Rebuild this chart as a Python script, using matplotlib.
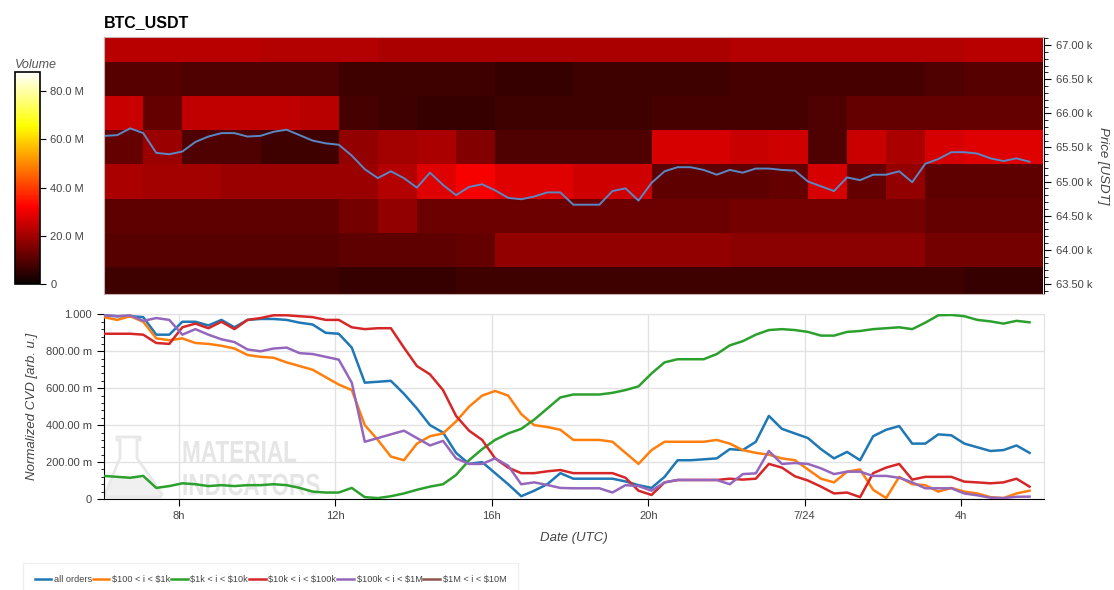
import numpy as np
import matplotlib
matplotlib.use("Agg")
import matplotlib.pyplot as plt
from matplotlib.ticker import MultipleLocator, FuncFormatter, FixedLocator
from matplotlib.textpath import TextPath
from matplotlib.patches import PathPatch, Polygon
from matplotlib.font_manager import FontProperties
from matplotlib.transforms import Affine2D

plt.rcParams['font.family'] = ['Liberation Sans', 'DejaVu Sans']

# time axis: hours since 2024-07-23 00:00 UTC, one sample every 20 min from 06:05
t = 6 + 5 / 60 + np.arange(72) / 3

price = [65670, 65680, 65780, 65710, 65420, 65400, 65440, 65580, 65660, 65710,
         65710, 65660, 65670, 65730, 65760, 65680, 65600, 65560, 65540, 65380,
         65180, 65050, 65150, 65050, 64910, 65130, 64950, 64800, 64920, 64960,
         64870, 64760, 64740, 64780, 64840, 64840, 64660, 64660, 64660, 64860,
         64900, 64720, 64980, 65150, 65210, 65210, 65170, 65100, 65170, 65130,
         65190, 65190, 65170, 65160, 65000, 64930, 64860, 65060, 65020, 65100,
         65100, 65150, 64990, 65260, 65330, 65430, 65430, 65410, 65340, 65300,
         65340, 65290]

cvd_all = [0.995, 0.99, 0.99, 0.985, 0.89, 0.89, 0.96, 0.96, 0.94, 0.97,
           0.93, 0.97, 0.975, 0.975, 0.97, 0.955, 0.945, 0.90, 0.895, 0.82,
           0.63, 0.635, 0.64, 0.57, 0.49, 0.40, 0.36, 0.25, 0.19, 0.20,
           0.14, 0.08, 0.015, 0.045, 0.08, 0.14, 0.11, 0.11, 0.11, 0.11,
           0.095, 0.075, 0.06, 0.12, 0.21, 0.21, 0.215, 0.22, 0.27, 0.265,
           0.31, 0.45, 0.38, 0.355, 0.33, 0.27, 0.22, 0.255, 0.21, 0.34,
           0.375, 0.395, 0.30, 0.30, 0.35, 0.345, 0.30, 0.28, 0.26, 0.265,
           0.29, 0.25]
cvd_100_1k = [0.985, 0.97, 0.99, 0.96, 0.87, 0.86, 0.87, 0.845, 0.84, 0.83,
              0.815, 0.78, 0.77, 0.765, 0.74, 0.72, 0.70, 0.66, 0.62, 0.59,
              0.40, 0.32, 0.23, 0.21, 0.30, 0.34, 0.355, 0.42, 0.50, 0.56,
              0.585, 0.56, 0.46, 0.40, 0.39, 0.375, 0.32, 0.32, 0.32, 0.31,
              0.25, 0.19, 0.265, 0.31, 0.31, 0.31, 0.31, 0.32, 0.30, 0.265,
              0.25, 0.24, 0.22, 0.21, 0.16, 0.11, 0.09, 0.148, 0.16, 0.05,
              0.005, 0.12, 0.08, 0.075, 0.04, 0.06, 0.04, 0.03, 0.01, 0.005,
              0.03, 0.045]
cvd_1k_10k = [0.125, 0.12, 0.115, 0.125, 0.06, 0.07, 0.085, 0.08, 0.07, 0.075,
              0.07, 0.075, 0.075, 0.08, 0.075, 0.06, 0.04, 0.035, 0.035, 0.06,
              0.01, 0.005, 0.015, 0.03, 0.05, 0.067, 0.08, 0.13, 0.21, 0.27,
              0.32, 0.355, 0.38, 0.43, 0.49, 0.55, 0.566, 0.566, 0.566, 0.575,
              0.59, 0.61, 0.68, 0.74, 0.757, 0.757, 0.757, 0.785, 0.832, 0.855,
              0.89, 0.915, 0.92, 0.915, 0.905, 0.885, 0.885, 0.905, 0.91, 0.92,
              0.925, 0.93, 0.92, 0.955, 0.995, 0.997, 0.99, 0.97, 0.962, 0.95,
              0.965, 0.957]
cvd_10k_100k = [0.895, 0.895, 0.895, 0.89, 0.845, 0.84, 0.93, 0.95, 0.925, 0.96,
                0.92, 0.97, 0.98, 0.995, 0.995, 0.99, 0.985, 0.97, 0.97, 0.93,
                0.92, 0.925, 0.925, 0.82, 0.72, 0.675, 0.59, 0.45, 0.37, 0.32,
                0.22, 0.17, 0.14, 0.14, 0.15, 0.157, 0.14, 0.14, 0.14, 0.14,
                0.115, 0.045, 0.022, 0.09, 0.103, 0.103, 0.103, 0.103, 0.11, 0.105,
                0.11, 0.19, 0.17, 0.123, 0.10, 0.067, 0.03, 0.035, 0.01, 0.14,
                0.17, 0.19, 0.105, 0.12, 0.12, 0.12, 0.094, 0.09, 0.085, 0.09,
                0.11, 0.067]
cvd_100k_1m = [0.995, 0.99, 0.995, 0.965, 0.98, 0.97, 0.89, 0.92, 0.89, 0.865,
               0.85, 0.81, 0.80, 0.815, 0.82, 0.79, 0.785, 0.77, 0.755, 0.63,
               0.31, 0.33, 0.35, 0.37, 0.33, 0.29, 0.315, 0.22, 0.19, 0.19,
               0.22, 0.18, 0.08, 0.09, 0.076, 0.06, 0.058, 0.058, 0.058, 0.035,
               0.075, 0.07, 0.045, 0.09, 0.103, 0.103, 0.103, 0.103, 0.08, 0.135,
               0.139, 0.26, 0.19, 0.195, 0.19, 0.166, 0.135, 0.148, 0.148, 0.125,
               0.125, 0.115, 0.09, 0.058, 0.058, 0.058, 0.03, 0.02, 0.007, 0.005,
               0.012, 0.013]
cvd_1m_10m = []

series_labels = ['all orders', r'\$100 < i < \$1k', r'\$1k < i < \$10k',
                 r'\$10k < i < \$100k', r'\$100k < i < \$1M', r'\$1M < i < \$10M']
series_colors = ['#1f77b4', '#ff7f0e', '#2ca02c', '#d62728', '#9467bd', '#8c564b']

# order book volume heatmap, million USDT, price bins (top to bottom) x hourly columns
price_bins = np.array([67000, 66500, 66000, 65500, 65000, 64500, 64000, 63500])
volume = np.array([
    [23, 23, 23, 23, 22, 22, 22, 21, 21, 21, 21, 21, 21, 21, 21, 21, 22, 22, 22, 22, 22, 22, 23, 23],
    [10, 10, 9, 9, 9, 9, 7, 7, 7, 7, 6, 6, 7, 7, 7, 7, 8, 8, 8, 8, 8, 9, 10, 10],
    [25, 12, 24, 24, 24, 23, 8, 7, 6, 6, 7, 7, 7, 7, 8, 8, 8, 8, 9, 12, 12, 12, 12, 12],
    [12, 19, 9, 9, 7, 7, 18, 20, 21, 16, 9, 9, 9, 9, 27, 27, 25, 26, 9, 25, 21, 27, 28, 28],
    [21, 20, 20, 19, 19, 19, 19, 22, 28, 31, 28, 28, 26, 26, 11, 11, 11, 12, 27, 12, 18, 11, 11, 11],
    [11, 11, 11, 11, 11, 11, 14, 18, 13, 13, 13, 13, 13, 13, 13, 13, 14, 14, 14, 14, 14, 12, 12, 12],
    [10, 10, 10, 10, 10, 10, 11, 11, 11, 12, 18, 18, 18, 18, 18, 18, 17, 17, 17, 17, 17, 14, 14, 14],
    [7, 7, 7, 7, 7, 7, 6, 6, 6, 7, 7, 7, 7, 7, 7, 7, 7, 7, 7, 7, 7, 7, 6, 6],
])
hour_edges = 6 + 5 / 60 + np.arange(volume.shape[1] + 1)
bin_edges = np.append(price_bins + 250, price_bins[-1] - 250)

W, H = 1114, 590
fig = plt.figure(figsize=(W / 100, H / 100), dpi=100)
ax_top = fig.add_axes([104 / W, 1 - 294 / H, 940 / W, 257 / H])
ax_bot = fig.add_axes([104 / W, 1 - 499 / H, 940 / W, 185 / H])
cax = fig.add_axes([15 / W, 1 - 284 / H, 25 / W, 212 / H])

txt = '#444444'

# --- heatmap + price
mesh = ax_top.pcolormesh(hour_edges, bin_edges, volume, cmap='hot', vmin=0, vmax=88,
                         shading='flat')
ax_top.plot(t, price, color='#5b88c4', lw=1.4)
ax_top.set_xlim(6.08, 30.12)
ax_top.set_ylim(63350, 67120)
ax_top.set_xticks([])
ax_top.yaxis.tick_right()
ax_top.yaxis.set_label_position('right')
ax_top.yaxis.set_major_locator(MultipleLocator(500))
ax_top.yaxis.set_minor_locator(MultipleLocator(100))
ax_top.yaxis.set_major_formatter(FuncFormatter(lambda v, p: f'{v / 1000:.2f} k'))
ax_top.tick_params(axis='y', which='major', length=5, labelsize=8, labelcolor=txt)
ax_top.tick_params(axis='y', which='minor', length=3)
for s in ['top', 'left', 'bottom']:
    ax_top.spines[s].set_color('#c9b0b0')
ax_top.spines['right'].set_color('black')
ax_top.set_ylabel('Price [USDT]', rotation=270, style='italic', fontsize=9.5,
                  color=txt, labelpad=12)
ax_top.set_title('BTC_USDT', loc='left', fontweight='bold', fontsize=11.5, pad=7)

# --- colorbar
cb = fig.colorbar(mesh, cax=cax)
cb.set_ticks([0, 20, 40, 60, 80])
cb.ax.yaxis.set_major_formatter(FuncFormatter(lambda v, p: '0' if v == 0 else f'{v:.1f} M'))
cb.ax.tick_params(labelsize=8, labelcolor=txt, length=4, width=0.8)
cb.outline.set_linewidth(1.2)
cax.set_title('Volume', loc='left', style='italic', fontsize=9, color='#555555', pad=3)

# --- CVD lines
cvd = [cvd_all, cvd_100_1k, cvd_1k_10k, cvd_10k_100k, cvd_100k_1m, cvd_1m_10m]
for vals, lab, col in zip(cvd, series_labels, series_colors):
    ax_bot.plot(t[:len(vals)], vals, color=col, lw=1.8, label=lab, zorder=3)

ax_bot.set_xlim(6.08, 30.12)
ax_bot.set_ylim(0, 1.002)
ax_bot.set_axisbelow(True)
ax_bot.grid(True, color='#e2e2e2', lw=1)
ax_bot.xaxis.set_major_locator(FixedLocator([8, 12, 16, 20, 24, 28]))
ax_bot.xaxis.set_major_formatter(FuncFormatter(
    lambda h, p: '7/24' if round(h) % 24 == 0 else f'{int(round(h)) % 24}h'))
ax_bot.yaxis.set_major_locator(MultipleLocator(0.2))
ax_bot.yaxis.set_minor_locator(MultipleLocator(0.04))
ax_bot.yaxis.set_major_formatter(FuncFormatter(
    lambda v, p: '0' if abs(v) < 1e-9 else ('1.000' if abs(v - 1) < 1e-9 else f'{v * 1000:.2f} m')))
ax_bot.tick_params(which='major', length=5, labelsize=8, labelcolor=txt)
ax_bot.tick_params(which='minor', length=2.5)
ax_bot.spines['top'].set_color('#e2e2e2')
ax_bot.spines['right'].set_color('#e2e2e2')
ax_bot.set_xlabel('Date (UTC)', style='italic', fontsize=9.5, color=txt, labelpad=8)
ax_bot.set_ylabel('Normalized CVD [arb. u.]', style='italic', fontsize=9.5, color=txt,
                  labelpad=6)

# --- watermark
to_fig = Affine2D().scale(1 / W, 1 / H) + fig.transFigure
fp = FontProperties(family='Liberation Sans', weight='bold')
for word, base in [('MATERIAL', 462), ('INDICATORS', 495)]:
    tp = TextPath((0, 0), word, size=30.5, prop=fp)
    tr = Affine2D().scale(0.74, 1.0).translate(182, H - base) + to_fig
    ax_bot.add_artist(PathPatch(tp, transform=tr, fc='#dddddd', ec='none', zorder=1, alpha=0.75))
flask = [(117, 437), (140, 437), (140, 440), (137, 440), (137, 458), (162, 494), (160, 497),
         (107, 497), (105, 494), (120, 458), (120, 440), (117, 440)]
liquid = [(112, 478), (151, 478), (162, 494), (160, 497), (107, 497), (105, 494)]
ax_bot.add_artist(Polygon([(x, H - y) for x, y in liquid], closed=True,
                          transform=to_fig, fc='#f0f0f0', ec='none', zorder=1))
ax_bot.add_artist(Polygon([(x, H - y) for x, y in flask], closed=True,
                          transform=to_fig, fc='none', ec='#e8e8e8', lw=2, zorder=1))

# --- legend
handles, labels = ax_bot.get_legend_handles_labels()
leg = fig.legend(handles, labels, loc='lower left', bbox_to_anchor=(18 / W, -0.018), ncol=6,
                 fontsize=6.6, handlelength=1.8, handletextpad=0.3, columnspacing=0.1,
                 borderpad=1.3, fancybox=False, frameon=True)
leg.get_frame().set_edgecolor('#ececec')
for tx in leg.get_texts():
    tx.set_color(txt)

fig.savefig('out.png', dpi=100)
